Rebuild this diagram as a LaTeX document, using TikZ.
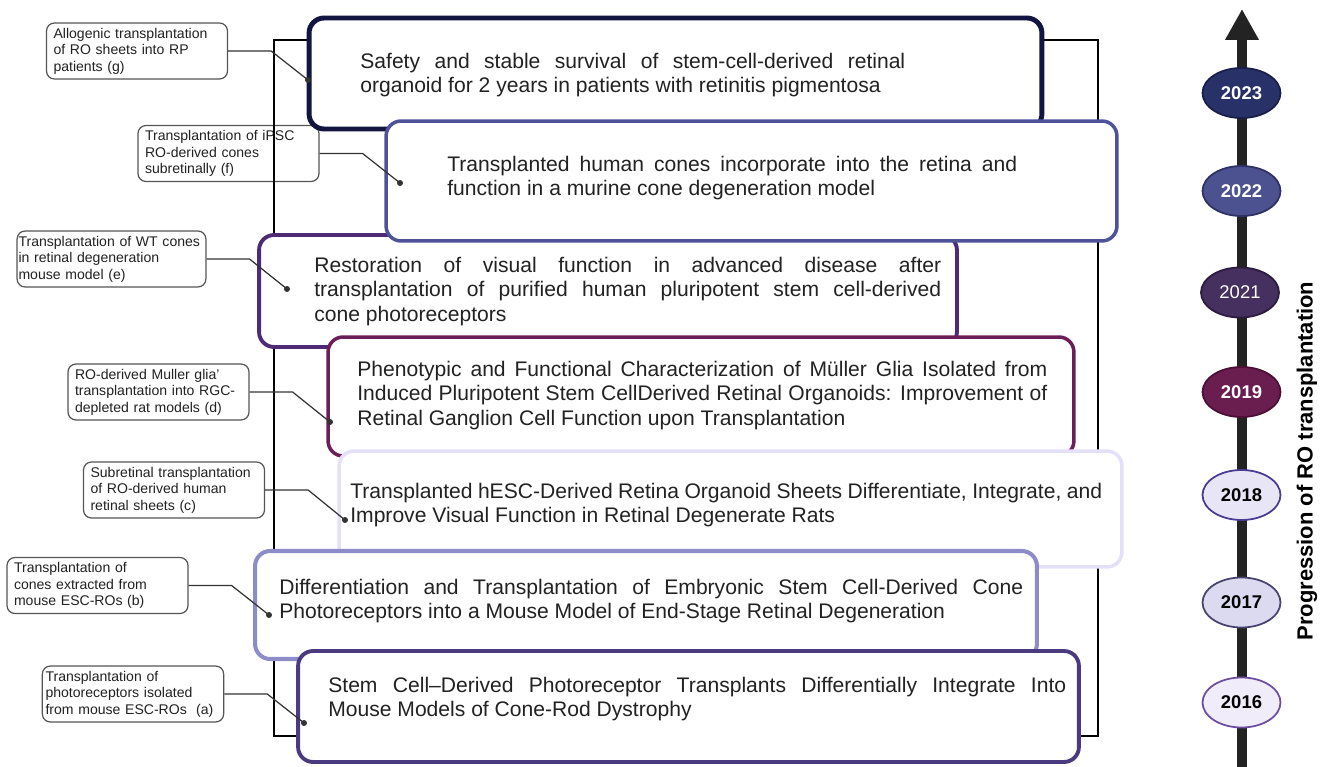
\documentclass[tikz,border=0pt]{standalone}
\usepackage{fontspec}
\setmainfont{Liberation Sans}
\usetikzlibrary{arrows.meta,positioning,shapes.geometric}

\definecolor{ink}{HTML}{222222}
\definecolor{notegray}{HTML}{555555}
\definecolor{linkgray}{HTML}{333333}
\definecolor{axisgray}{HTML}{232323}
\definecolor{c23}{HTML}{12153F}
\definecolor{c22}{HTML}{4E5399}
\definecolor{c21}{HTML}{4F2B75}
\definecolor{c19}{HTML}{6B1E57}
\definecolor{c18}{HTML}{E4E0F7}
\definecolor{c17}{HTML}{8E8BC9}
\definecolor{c16}{HTML}{4B3A80}
\definecolor{y23}{HTML}{283268}
\definecolor{y23d}{HTML}{1A1F4A}
\definecolor{y22}{HTML}{4C5190}
\definecolor{y22d}{HTML}{2E3163}
\definecolor{y21}{HTML}{46305F}
\definecolor{y21d}{HTML}{2B1B3E}
\definecolor{y19}{HTML}{6A1D4F}
\definecolor{y19d}{HTML}{4A1035}
\definecolor{y18}{HTML}{E8E5F6}
\definecolor{y18d}{HTML}{4A3A92}
\definecolor{y17}{HTML}{DCDAF0}
\definecolor{y17d}{HTML}{48436E}
\definecolor{y16}{HTML}{F1ECF9}
\definecolor{y16d}{HTML}{6D4E9E}

\hyphenpenalty=10000
\exhyphenpenalty=10000
\tolerance=9999

\begin{document}
\begin{tikzpicture}[x=0.02cm,y=-0.02cm]
	\tikzstyle{note} = [rectangle, draw=notegray, fill=white, rounded corners=0.16cm, line width=0.7pt, text width=3.34cm, minimum height=1.12cm, inner xsep=4pt, inner ysep=2pt, align=left, text=ink, font=\fontsize{8}{9.4}\selectfont]
	\tikzstyle{paper} = [rectangle, fill=white, rounded corners=0.3cm, inner sep=0pt]
	\tikzstyle{txt} = [inner sep=0pt, anchor=west, align=justify, text=ink, font=\fontsize{12}{13.7}\selectfont]
	\tikzstyle{year} = [ellipse, line width=1pt, minimum width=1.56cm, minimum height=1cm, inner sep=0pt, font=\bfseries\fontsize{10.5}{12}\selectfont]
	\tikzstyle{outline} = [draw=black, line width=1.1pt]
	\tikzstyle{link} = [draw=linkgray, line width=0.7pt]
	\tikzstyle{axis} = [draw=axisgray, line width=5.7pt, -{Triangle[width=18pt,length=17.6pt]}]
	\useasboundingbox (0,0) rectangle (1330,767);

	\node [note] (ng) at (137,51) {Allogenic transplantation\\of RO sheets into RP\\patients (g)};
	\node [note] (nf) at (228.5,153.5) {Transplantation of iPSC\\RO-derived cones\\subretinally (f)};
	\node [note, text width=3.72cm, inner xsep=0.8pt] (ne) at (111.5,259) {Transplantation of WT cones\\in retinal degeneration\\mouse model (e)};
	\node [note] (nd) at (158.5,392) {RO-derived Muller glia'\\transplantation into RGC-\\depleted rat models (d)};
	\node [note] (nc) at (174,490) {Subretinal transplantation\\of RO-derived human\\retinal sheets (c)};
	\node [note] (nb) at (97.5,585.5) {Transplantation of\\cones extracted from\\mouse ESC-ROs (b)};
	\node [note, text width=3.5cm, inner xsep=1.8pt] (na) at (133,694) {Transplantation of\\photoreceptors isolated\\from mouse ESC-ROs\ \ (a)};

	\draw [outline] (274,40) rectangle (1098,736);

	\node [paper, draw=c23, line width=2.8pt, minimum width=14.66cm, minimum height=2.22cm] (p23) at (675.5,73.5) {};
	\node [txt, text width=10.9cm] (t23) at (360,75) {Safety and stable survival of stem-cell-derived retinal\linebreak organoid for 2 years in patients with retinitis pigmentosa};
	\node [paper, draw=c21, line width=2.2pt, minimum width=13.96cm, minimum height=2.24cm] (p21) at (608,291) {};
	\node [txt, text width=12.54cm] (t21) at (314,291.5) {Restoration of visual function in advanced disease after\linebreak transplantation of purified human pluripotent stem cell-derived\linebreak cone photoreceptors};
	\node [paper, draw=c22, line width=2pt, minimum width=14.62cm, minimum height=2.4cm] (p22) at (751.5,181) {};
	\node [txt, text width=11.4cm] (t22) at (447,178.5) {Transplanted human cones incorporate into the retina and\linebreak function in a murine cone degeneration model};
	\node [paper, draw=c19, line width=2pt, minimum width=14.92cm, minimum height=2.38cm] (p19) at (701,396.5) {};
	\node [txt, text width=13.8cm] (t19) at (357,395.5) {Phenotypic and Functional Characterization of Müller Glia Isolated from\linebreak Induced Pluripotent Stem CellDerived Retinal Organoids: Improvement of\linebreak Retinal Ganglion Cell Function upon Transplantation};
	\node [paper, draw=c18, line width=2pt, minimum width=15.66cm, minimum height=2.32cm] (p18) at (730.5,509) {};
	\node [txt, text width=15.04cm] (t18) at (350,505) {Transplanted hESC-Derived Retina Organoid Sheets Differentiate, Integrate, and\linebreak Improve Visual Function in Retinal Degenerate Rats};
	\node [paper, draw=c17, line width=2.3pt, minimum width=15.64cm, minimum height=2.16cm] (p17) at (646,605) {};
	\node [txt, text width=14.88cm] (t17) at (279,601) {Differentiation and Transplantation of Embryonic Stem Cell-Derived Cone\linebreak Photoreceptors into a Mouse Model of End-Stage Retinal Degeneration};
	\node [paper, draw=c16, line width=2.2pt, minimum width=15.62cm, minimum height=2.22cm] (p16) at (688.5,706.5) {};
	\node [txt, text width=14.76cm] (t16) at (328,699.5) {Stem Cell–Derived Photoreceptor Transplants Differentially Integrate Into\linebreak Mouse Models of Cone-Rod Dystrophy};

	\coordinate (axbot) at (1242,767);
	\coordinate (axtop) at (1242,9);
	\draw [axis] (axbot) -- (axtop);

	\node [year, fill=y23, draw=y23d, text=white] (y23) at (1241.5,93) {2023};
	\node [year, fill=y22, draw=y22d, text=white] (y22) at (1241.5,191) {2022};
	\node [year, fill=y21, draw=y21d, text=white, font=\fontsize{10.5}{12}\selectfont] (y21) at (1240,292.5) {2021};
	\node [year, fill=y19, draw=y19d, text=white] (y19) at (1241.5,392) {2019};
	\node [year, fill=y18, draw=y18d, text=black] (y18) at (1241.5,495) {2018};
	\node [year, fill=y17, draw=y17d, text=black] (y17) at (1241.5,602.5) {2017};
	\node [year, fill=y16, draw=y16d, text=black] (y16) at (1241.5,702.5) {2016};

	\node [rotate=90, text=black, font=\bfseries\fontsize{12.5}{14}\selectfont] (title) at (1307,461) {Progression of RO transplantation};

	\coordinate (dg) at (308,80);
	\coordinate (df) at (400,183);
	\coordinate (de) at (287,289);
	\coordinate (dd) at (330,422);
	\coordinate (dc) at (345,520);
	\coordinate (db) at (269,615);
	\coordinate (da) at (304,723);
	\foreach \n in {g,f,e,d,c,b,a} {
		\path [link] (n\n.east) -- ++(43,0) -- (d\n);
		\fill [linkgray] (d\n) circle (1.7pt);
	}
\end{tikzpicture}
\end{document}
